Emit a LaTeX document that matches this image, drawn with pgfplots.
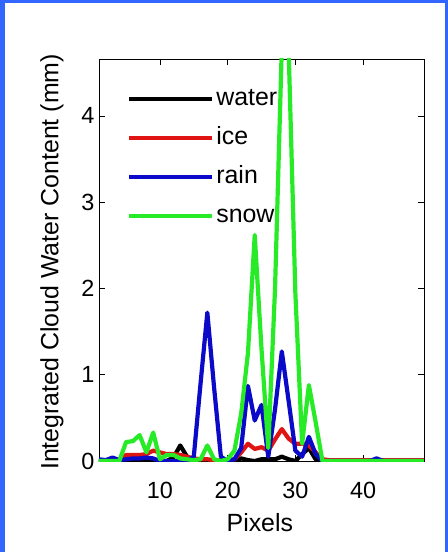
\documentclass[border=0pt]{standalone}
\usepackage{pgfplots}
\pgfplotsset{compat=1.18}
\usepackage{pgfplotstable}
\usetikzlibrary{backgrounds}
\usepackage{fontspec}
\setmainfont{Liberation Sans}
\definecolor{frameblue}{RGB}{51,102,255}
\definecolor{cwater}{RGB}{0,0,0}
\definecolor{cice}{RGB}{225,20,20}
\definecolor{crain}{RGB}{10,10,200}
\definecolor{csnow}{RGB}{40,235,40}

\pgfplotstableread{
x water ice rain snow
1 0 0 0.02 0
2 0 0 0.01 0
3 0 0 0.04 0
4 0 0.01 0.01 0
5 0 0.07 0.02 0.22
6 0 0.07 0.03 0.23
7 0 0.07 0.03 0.30
8 0 0.08 0.04 0.10
9 0 0.12 0.03 0.33
10 0 0.10 0 0.02
11 0 0.08 0 0.07
12 0.04 0.08 0 0.07
13 0.18 0.07 0 0.03
14 0.05 0.05 0 0.02
15 0 0.03 0.05 0.01
16 0 0.02 0.90 0.02
17 0 0.02 1.72 0.18
18 0 0.01 0.85 0.02
19 0 0.01 0.05 0
20 0 0.01 0 0.02
21 0 0.02 0.02 0.12
22 0.03 0.10 0.15 0.55
23 0.01 0.20 0.87 1.25
24 0 0.14 0.47 2.62
25 0.02 0.16 0.65 1.30
26 0.02 0.12 0.05 0.15
27 0.02 0.25 0.60 2.00
28 0.05 0.37 1.27 4.80
29 0.02 0.26 0.70 4.80
30 0 0.20 0.12 1.95
31 0.08 0.20 0.05 0.20
32 0.15 0.18 0.28 0.88
33 0.02 0.10 0.08 0.45
34 0 0.02 0 0
35 0 0.01 0 0
36 0 0.01 0 0
37 0 0.01 0 0
38 0 0.01 0 0
39 0 0.01 0 0
40 0 0.01 0 0
41 0 0.01 0 0
42 0 0.01 0.03 0
43 0 0.01 0 0
44 0 0.01 0 0
45 0 0.01 0 0
46 0 0.01 0 0
47 0 0.01 0 0
48 0 0.01 0 0
49 0 0.01 0 0
}\datatable

\begin{document}
\begin{tikzpicture}
\begin{axis}[
  name=ax, at={(0,0)}, anchor=south west,
  width=325bp, height=402bp, scale only axis,
  xmin=1, xmax=49, ymin=0, ymax=4.66,
  xtick={10,20,30,40}, ytick={0,1,2,3,4},
  tick align=inside, major tick length=6bp,
  tick style={black, line width=0.6bp},
  axis line style={black, line width=0.8bp},
  /pgf/number format/assume math mode=true,
  ticklabel style={font=\fontsize{23.5}{23.5}\selectfont},
  xticklabel style={anchor=center, yshift=-29bp},
  yticklabel style={xshift=-1bp},
  xlabel={Pixels}, ylabel={Integrated Cloud Water Content (mm)},
  label style={font=\fontsize{25}{25}\selectfont},
  xlabel style={at={(axis description cs:0.495,0)}, anchor=center, yshift=-62bp},
  ylabel style={at={(axis description cs:-0.1446,0.495)}, anchor=center},
  legend style={draw=none, fill=none, at={(axis description cs:0.086,0.932)}, anchor=north west,
    font=\fontsize{25}{25}\selectfont, inner sep=0pt, row sep=14bp,
    nodes={text height=17bp, text depth=4bp, inner sep=2bp}},
  legend cell align=left,
  legend image code/.code={\draw[#1] (0bp,0bp) -- (78bp,0bp); \path (0bp,0bp) -- (83bp,0bp);},
  every axis plot/.append style={line width=4.2bp, line join=round},
]
\addplot[cwater] table[x=x,y=water] {\datatable};
\addlegendentry{water}
\addplot[cice] table[x=x,y=ice] {\datatable};
\addlegendentry{ice}
\addplot[crain] table[x=x,y=rain] {\datatable};
\addlegendentry{rain}
\addplot[csnow] table[x=x,y=snow] {\datatable};
\addlegendentry{snow}
\end{axis}
\begin{scope}[on background layer]
\fill[frameblue] (ax.south west) ++(-99bp,-91bp) rectangle ++(448bp,552bp);
\fill[white] (ax.south west) ++(-94bp,-91bp) rectangle ++(440bp,549bp);
\end{scope}
\end{tikzpicture}
\end{document}
